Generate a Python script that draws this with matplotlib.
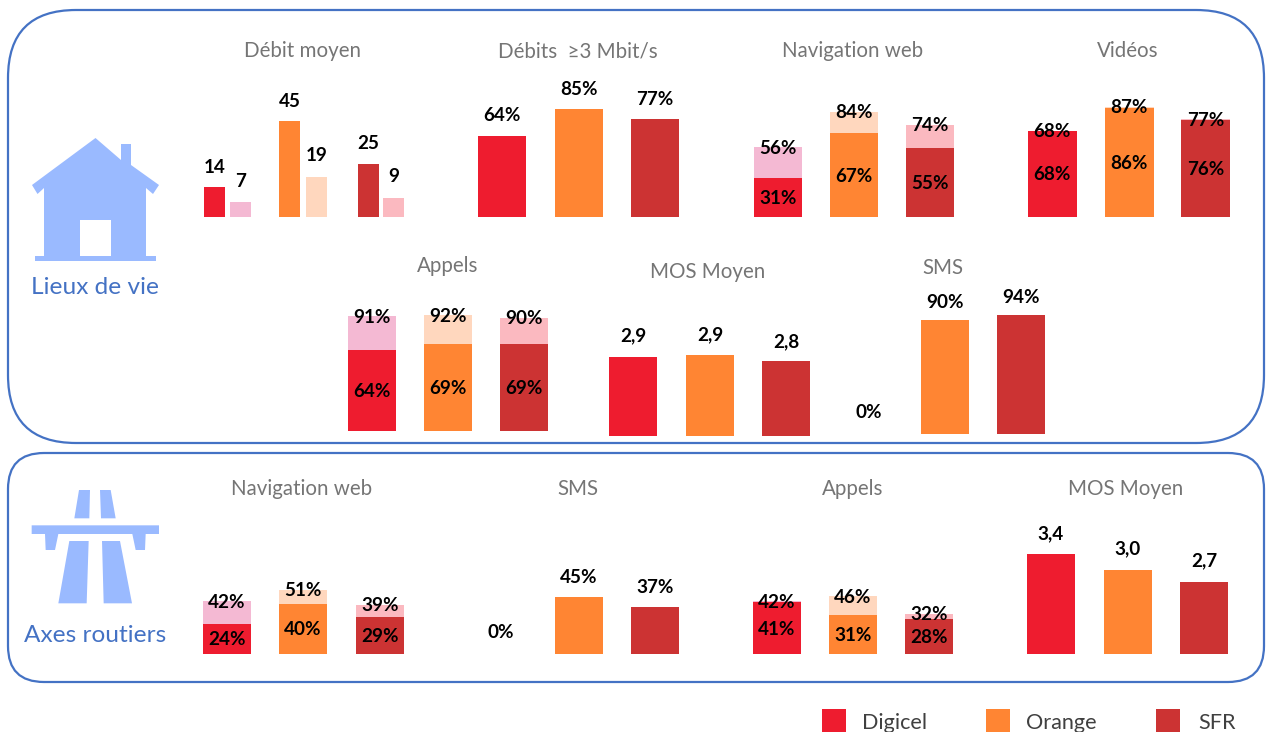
import matplotlib
matplotlib.use("Agg")
import matplotlib.pyplot as plt
from matplotlib.patches import FancyBboxPatch, Polygon, Rectangle

plt.rcParams['font.family'] = ['Lato', 'DejaVu Sans']

W, H = 1266, 732
# ---------- data ----------
operators = ["Digicel", "Orange", "SFR"]

debit_moyen_main = [14, 45, 25]
debit_moyen_light = [7, 19, 9]

debits3_values = [64, 85, 77]

nav_home_light = [56, 84, 74]
nav_home_dark = [31, 67, 55]

videos_light = [68, 87, 77]
videos_dark = [68, 86, 76]

appels_home_light = [91, 92, 90]
appels_home_dark = [64, 69, 69]

mos_home_values = [2.9, 2.95, 2.8]
mos_home_labels = ["2,9", "2,9", "2,8"]

sms_home_values = [0, 90, 94]

nav_road_light = [42, 51, 39]
nav_road_dark = [24, 40, 29]

sms_road_values = [0, 45, 37]

appels_road_light = [42, 46, 32]
appels_road_dark = [41, 31, 28]

mos_road_values = [3.4, 3.0, 2.7]
mos_road_labels = ["3,4", "3,0", "2,7"]

# ---------- styles ----------
DARK = ["#EE1C2F", "#FF8533", "#CC3333"]
LIGHT = ["#F4B9D3", "#FFD7BE", "#FBB9C0"]
BLUE = "#4472C4"
ICON = "#9ABAFF"
GREY = "#757575"
LABEL_FS = 13.6
TITLE_FS = 14.8

fig = plt.figure(figsize=(W / 100, H / 100), dpi=100, facecolor="white")
bg = fig.add_axes([0, 0, 1, 1])
bg.set_xlim(0, W)
bg.set_ylim(H, 0)
bg.axis("off")

# frames
for x0, y0, x1, y1, r in [(8, 10, 1264, 443, 68), (8, 453, 1264, 682, 36)]:
    bg.add_patch(FancyBboxPatch((x0 + r, y0 + r), x1 - x0 - 2 * r, y1 - y0 - 2 * r,
                                boxstyle=f"round,pad={r},rounding_size={r}",
                                fc="white", ec=BLUE, lw=1.6))

# house icon
bg.add_patch(Polygon([(95.5, 138), (121, 160), (121, 144), (131, 144), (131, 165), (159, 185),
                      (153, 194), (146, 188), (146, 256), (156, 256), (156, 261), (35, 261),
                      (35, 256), (44, 256), (44, 188), (37.5, 194), (32, 185)],
                     closed=True, fc=ICON, ec="none"))
bg.add_patch(Rectangle((80, 220), 30.5, 36, fc="white", ec="none"))

# motorway icon
for pts in [
    [(237, 150), (270, 150), (268, 235), (223, 235)],
    [(300, 150), (332, 150), (347, 235), (303, 235)],
    [(95, 256), (477, 256), (477, 282), (437, 282), (435, 330), (407, 330), (397, 282),
     (175, 282), (165, 330), (137, 330), (135, 282), (95, 282)],
    [(208, 303), (266, 303), (260, 490), (175, 490)],
    [(306, 303), (360, 303), (396, 490), (311, 490)],
]:
    bg.add_patch(Polygon([(x / 3, y / 3 + 440) for x, y in pts], closed=True, fc=ICON, ec="none"))

bg.text(95, 287, "Lieux de vie", color=BLUE, fontsize=17.6, ha="center", va="center")
bg.text(95, 636, "Axes routiers", color=BLUE, fontsize=17.6, ha="center", va="center")

# panel titles
for txt, x, y in [
    ("Débit moyen", 302, 51), ("Débits  ≥3 Mbit/s", 578, 51), ("Navigation web", 853, 51),
    ("Vidéos", 1128, 51), ("Appels", 448, 266), ("MOS Moyen", 708, 272), ("SMS", 943, 268),
    ("Navigation web", 302, 489), ("SMS", 578, 489), ("Appels", 853, 489), ("MOS Moyen", 1126, 489),
]:
    bg.text(x, y, txt, color=GREY, fontsize=TITLE_FS, ha="center", va="center")


def make_axes(x0, x1, baseline, px_per_unit, bottom=0, height=130):
    """Transparent axes whose x unit is a pixel; the y axis may start above zero."""
    ax = fig.add_axes([x0 / W, 1 - baseline / H, (x1 - x0) / W, height / H])
    ax.set_xlim(x0, x1)
    ax.set_ylim(bottom, bottom + height / px_per_unit)
    ax.patch.set_alpha(0)
    ax.axis("off")
    return ax


def label(ax, x, y, txt, dy=0):
    ax.annotate(txt, (x, y), xytext=(0, dy * 0.72), textcoords="offset points",
                ha="center", va="center", fontsize=LABEL_FS, fontweight="bold",
                color="black", annotation_clip=False)


def simple_panel(lefts, width, baseline, scale, values, offsets, labels=None, bottom=0):
    ax = make_axes(lefts[0] - 60, lefts[-1] + width + 10, baseline, scale, bottom=bottom)
    centres = [l + width / 2 for l in lefts]
    ax.bar(centres, values, width=width, color=DARK)
    for i, v in enumerate(values):
        y = max(v, bottom)
        label(ax, centres[i], y, labels[i] if labels else f"{v}%", dy=offsets[i])


def stacked_panel(lefts, width, baseline, scale, light, dark):
    ax = make_axes(lefts[0] - 10, lefts[-1] + width + 10, baseline, scale)
    centres = [l + width / 2 for l in lefts]
    ax.bar(centres, light, width=width, color=LIGHT)
    ax.bar(centres, dark, width=width, color=DARK)
    for i in range(len(centres)):
        label(ax, centres[i], light[i], f"{light[i]}%", dy=-1)
        label(ax, centres[i], dark[i] / 2, f"{dark[i]}%", dy=-1)


# Débit moyen: paired bars
ax = make_axes(195, 415, 217, 2.13)
main_x = [214.5, 289.5, 368.5]
light_x = [240.5, 316.5, 393.5]
ax.bar(main_x, debit_moyen_main, width=21, color=DARK)
ax.bar(light_x, debit_moyen_light, width=21, color=LIGHT)
for i in range(3):
    label(ax, main_x[i], debit_moyen_main[i], str(debit_moyen_main[i]), dy=20)
    label(ax, light_x[i], debit_moyen_light[i], str(debit_moyen_light[i]), dy=21)

simple_panel([478, 555, 631], 48, 217, 1.27, debits3_values, [20, 20, 20])
stacked_panel([754, 830, 906], 48, 217, 1.25, nav_home_light, nav_home_dark)
stacked_panel([1028, 1105, 1181], 48.5, 217, 1.27, videos_light, videos_dark)
stacked_panel([348, 424, 500], 48, 431, 1.26, appels_home_light, appels_home_dark)
simple_panel([609, 686, 762], 48, 436, 40, mos_home_values, [21, 20, 19],
             labels=mos_home_labels, bottom=0.925)
simple_panel([845, 921, 997], 48, 434, 1.267, sms_home_values, [22, 17, 17])

stacked_panel([203, 279, 356], 48, 654, 1.26, nav_road_light, nav_road_dark)
simple_panel([477, 555, 631], 48, 654, 1.26, sms_road_values, [21, 20, 20])
stacked_panel([753, 829, 905], 48, 654, 1.26, appels_road_light, appels_road_dark)
simple_panel([1027, 1104, 1180], 48, 654, 40, mos_road_values, [20, 21, 21],
             labels=mos_road_labels, bottom=0.9)

# legend
for name, col, bx, tx in zip(operators, DARK, [822, 986, 1156], [862, 1026, 1198]):
    bg.add_patch(Rectangle((bx, 709), 24, 24, fc=col, ec="none", clip_on=True))
    bg.text(tx, 723, name, color="#404040", fontsize=15.6, ha="left", va="center")

fig.savefig("out.png", dpi=100)
